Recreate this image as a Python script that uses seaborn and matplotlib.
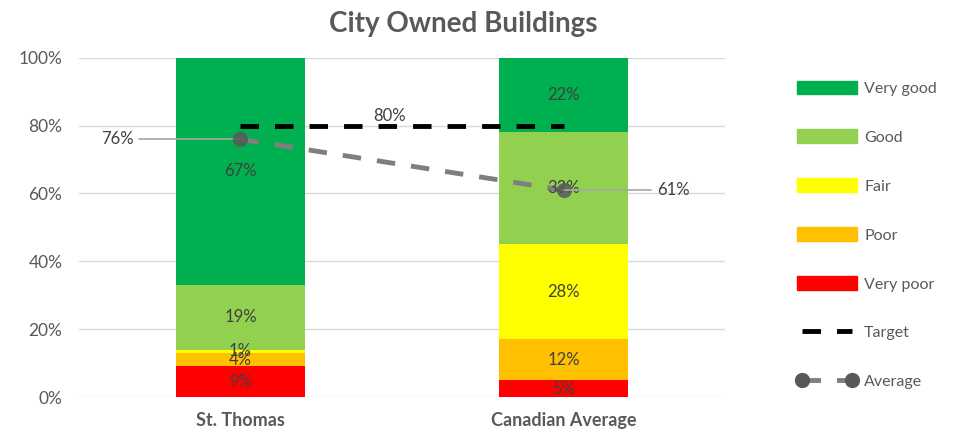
import numpy as np
import pandas as pd
import seaborn as sns
import matplotlib.pyplot as plt
from matplotlib.patches import Patch
from matplotlib.lines import Line2D

# Data
sites = ["St. Thomas", "Canadian Average"]
conditions = ["Very poor", "Poor", "Fair", "Good", "Very good"]
very_poor = [9, 5]
poor = [4, 12]
fair = [1, 28]
good = [19, 33]
very_good = [67, 22]
target = [80, 80]
average = [76, 61]

colors = {"Very good": "#00b050", "Good": "#92d050", "Fair": "#ffff00",
          "Poor": "#ffc000", "Very poor": "#ff0000"}
text_gray = "#595959"
dash = [3.8, 3.3]

sns.set_theme(style="white")
plt.rcParams["font.family"] = ["Lato", "DejaVu Sans"]

df = pd.DataFrame({"site": sites, "Very poor": very_poor, "Poor": poor,
                   "Fair": fair, "Good": good, "Very good": very_good})
cum = df[conditions].cumsum(axis=1) / 100

fig = plt.figure(figsize=(9.55, 4.36), dpi=100)
ax = fig.add_axes([0.0827, 0.0894, 0.6765, 0.778])

# stacked bars: draw cumulative totals from the top down
for cond in reversed(conditions):
    sns.barplot(x=df["site"], y=cum[cond], color=colors[cond], width=0.4,
                saturation=1, ax=ax, zorder=2, linewidth=0)

# segment labels
for i in range(len(sites)):
    base = 0
    for cond in conditions:
        v = df.loc[i, cond] / 100
        ax.text(i, base + v / 2, f"{df.loc[i, cond]}%", ha="center", va="center",
                fontsize=12, color="#404040", zorder=5)
        base += v

xs = np.arange(len(sites))
sns.lineplot(x=xs, y=np.array(target) / 100, ax=ax, color="black", lw=3.5,
             zorder=4).lines[-1].set_dashes(dash)
sns.lineplot(x=xs, y=np.array(average) / 100, ax=ax, color="#7f7f7f", lw=3.5,
             zorder=4).lines[-1].set_dashes(dash)
ax.scatter(xs, np.array(average) / 100, s=120, color="#595959", alpha=0.85, zorder=6,
           linewidths=0)

# labels for target and average
ax.text(0.46, 0.805, f"{target[0]}%", ha="center", va="bottom", fontsize=12, color="#404040")
ax.plot([-0.315, 0], [average[0] / 100] * 2, color="#a6a6a6", lw=1.2, zorder=3)
ax.text(-0.33, average[0] / 100, f"{average[0]}%", ha="right", va="center",
        fontsize=12, color="#404040")
ax.plot([1, 1.27], [average[1] / 100] * 2, color="#a6a6a6", lw=1.2, zorder=7)
ax.text(1.29, average[1] / 100, f"{average[1]}%", ha="left", va="center",
        fontsize=12, color="#404040")

ax.set_xlim(-0.5, 1.5)
ax.set_ylim(0, 1)
ax.set_yticks(np.arange(0, 1.01, 0.2))
ax.set_yticklabels([f"{int(t * 100)}%" for t in np.arange(0, 1.01, 0.2)])
ax.grid(axis="y", color="#d9d9d9", lw=1, zorder=0)
ax.set_axisbelow(True)
for s in ax.spines.values():
    s.set_visible(False)
ax.set_xlabel("")
ax.set_ylabel("")
ax.tick_params(axis="y", labelsize=12.5, colors=text_gray, pad=12, length=0)
ax.tick_params(axis="x", labelsize=13, colors=text_gray, pad=11, length=0)
for lab in ax.get_xticklabels():
    lab.set_fontweight("bold")

fig.text(0.485, 0.945, "City Owned Buildings", ha="center", va="center",
         fontsize=20, fontweight="bold", color=text_gray)

handles = [Patch(color=colors[c]) for c in reversed(conditions)]
handles.append(Line2D([], [], color="black", lw=3.5, dashes=dash))
handles.append(Line2D([], [], color="#7f7f7f", lw=3.5, dashes=dash, marker="o",
                      markersize=11, markerfacecolor="#595959", markeredgewidth=0))
labels = list(reversed(conditions)) + ["Target", "Average"]
leg = fig.legend(handles, labels, loc="upper left", bbox_to_anchor=(0.828, 0.83),
                 frameon=False, fontsize=11.5, handlelength=3.75, handleheight=0.95,
                 labelspacing=2.1, handletextpad=0.45, numpoints=2, borderaxespad=0)
for t in leg.get_texts():
    t.set_color(text_gray)

fig.savefig("out.png", dpi=100)
